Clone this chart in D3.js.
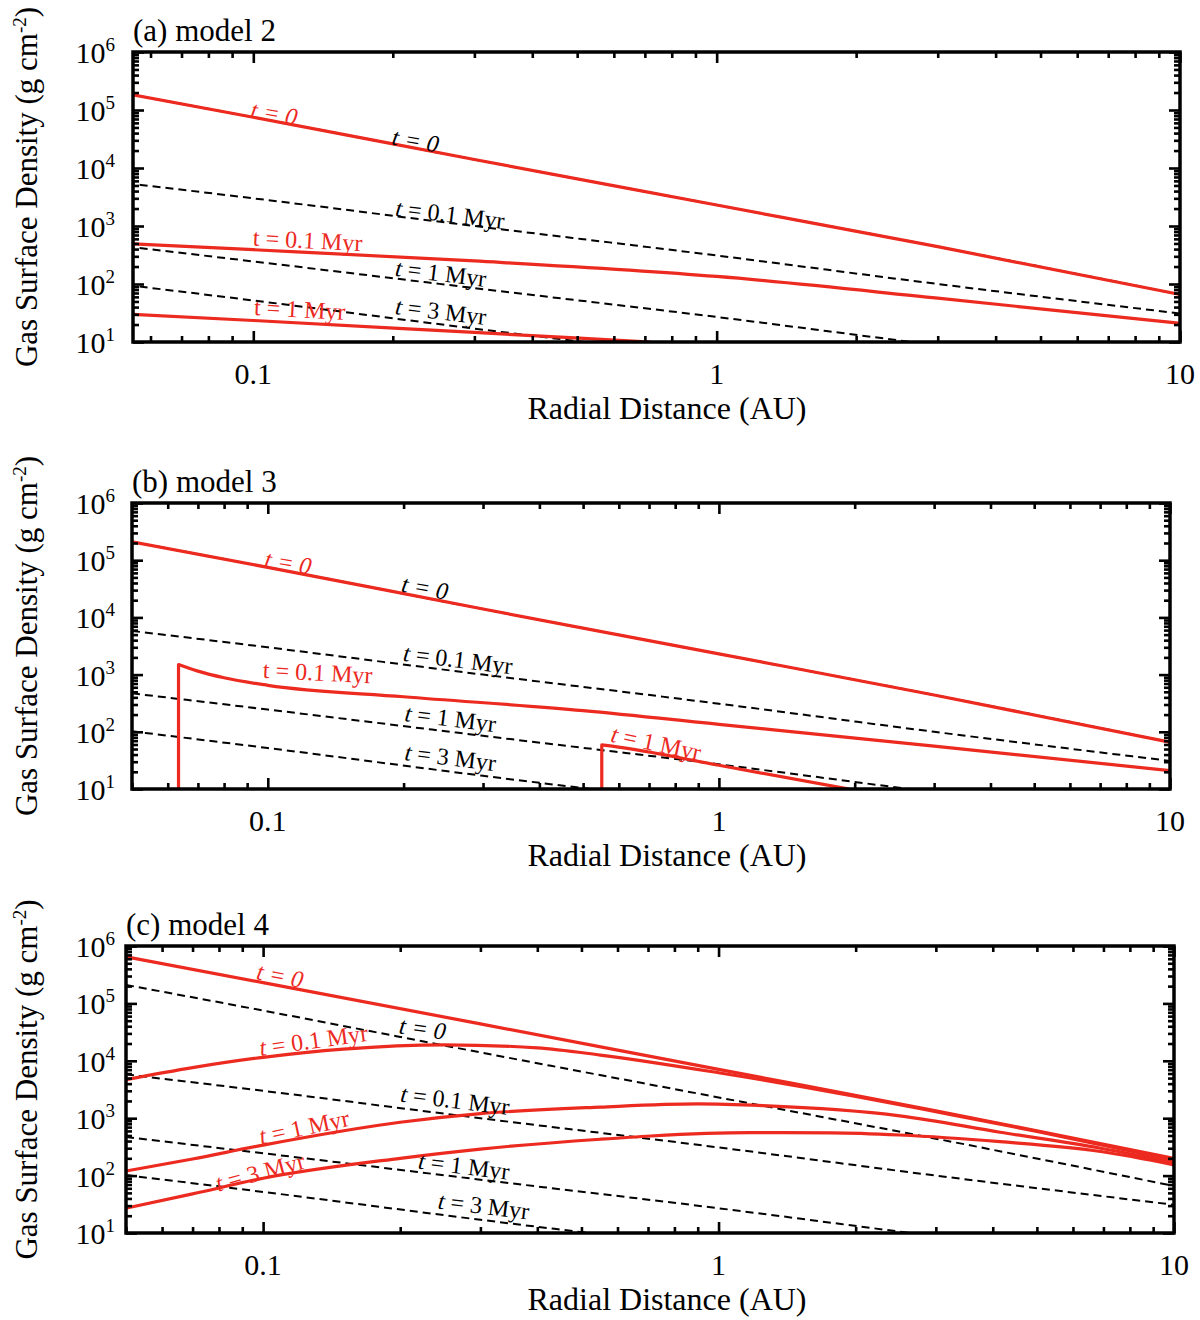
<!DOCTYPE html>
<html lang="en">
<head>
<meta charset="utf-8">
<title>Gas Surface Density</title>
<script src="https://d3js.org/d3.v7.min.js"></script>
<style>
  body { margin: 0; background: #fff; }
  text { font-family: "Liberation Serif", "Times New Roman", serif; }
</style>
</head>
<body>
<script>
// radial grid of the power-law curves (AU)
var rGrid = [0.05, 0.1, 0.3, 1, 3, 10];

// black dashed curves, identical in the three panels (g cm^-2)
var dashT0  = [2.1e5, 7.5e4, 1.4e4, 2300, 440, 66];
var dashT01 = [5800, 3000, 1000, 310, 100, 31];
var dashT1  = [470, 245, 85, 27, 8.8, 2.8];
var dashT3  = [102, 52, 17, 5.3, 1.7, 0.53];

// (a) model 2, red curves (t = 0 is the dashed t = 0 curve)
var aR01 = [0.055, 0.1, 0.3, 1, 3, 10];
var aS01 = [490, 390, 250, 135, 57, 21];
var aR1  = [0.055, 0.1, 0.3, 0.72];
var aS1  = [30, 23.5, 14.6, 10];

// (b) model 3, inner edge is a vertical wall
var bR01 = [0.0634, 0.0634, 0.07, 0.08, 0.1, 0.2, 0.5, 1, 3, 10];
var bS01 = [10, 1500, 1150, 880, 650, 410, 235, 135, 56, 21];
var bR1  = [0.55, 0.55, 0.58, 1, 1.94];
var bS1  = [10, 59, 56, 26, 10];

// (c) model 4
var cS0  = [6.5e5, 2.3e5, 4.4e4, 7100, 1350, 200];
var cR01 = [0.05, 0.07, 0.1, 0.15, 0.25, 0.4, 0.55, 1, 2, 3, 5, 10];
var cS01 = [4700, 7600, 11500, 16000, 19000, 16800, 12600, 6200, 2400, 1300, 590, 185];
var cR1  = [0.05, 0.07, 0.1, 0.2, 0.3, 0.55, 0.9, 1.25, 2.5, 4.15, 6.9, 10];
var cS1  = [120, 195, 340, 850, 1200, 1560, 1770, 1650, 1100, 570, 300, 169];
var cR3  = [0.05, 0.07, 0.1, 0.2, 0.3, 0.55, 0.71, 1.17, 1.77, 2.5, 4.15, 6.9, 10];
var cS3  = [27, 48, 90, 200, 290, 430, 490, 560, 555, 510, 390, 263, 154];

// ticks
var xMajor = [0.1, 1, 10];
var xTickLabels = ["0.1", "1", "10"];
var yMajor = [1e1, 1e2, 1e3, 1e4, 1e5, 1e6];
var yExp = ["1", "2", "3", "4", "5", "6"];

var red = "#ec2a1f";

function pairs(r, s) { return r.map(function (v, i) { return [v, s[i]]; }); }

var dashed = [pairs(rGrid, dashT0), pairs(rGrid, dashT01), pairs(rGrid, dashT1), pairs(rGrid, dashT3)];

var panels = [
  { title: "(a) model 2", top: 52, bottom: 342, left: 133, right: 1180, xMin: 0.055,
    red: [pairs(rGrid, dashT0), pairs(aR01, aS01), pairs(aR1, aS1)],
    labels: [
      ["t = 0", 0.111, 8.9e4, 10, red, "all"],
      ["t = 0", 0.224, 3.0e4, 10, "#000", "all"],
      ["t = 0.1 Myr", 0.266, 1610, 7, "#000", "t"],
      ["t = 0.1 Myr", 0.131, 574, 3, red, "none"],
      ["t = 1 Myr", 0.254, 155, 7, "#000", "t"],
      ["t = 3 Myr", 0.254, 34, 7, "#000", "t"],
      ["t = 1 Myr", 0.126, 37, 3, red, "none"]
    ] },
  { title: "(b) model 3", top: 503, bottom: 789, left: 132, right: 1170, xMin: 0.05,
    red: [pairs(rGrid, dashT0), pairs(bR01, bS01), pairs(bR1, bS1)],
    labels: [
      ["t = 0", 0.111, 9.2e4, 10, red, "all"],
      ["t = 0", 0.223, 3.35e4, 10, "#000", "all"],
      ["t = 0.1 Myr", 0.264, 1860, 7, "#000", "t"],
      ["t = 0.1 Myr", 0.129, 1100, 3, red, "none"],
      ["t = 1 Myr", 0.254, 173, 7, "#000", "t"],
      ["t = 3 Myr", 0.254, 36, 7, "#000", "t"],
      ["t = 1 Myr", 0.726, 64, 12, red, "t"]
    ] },
  { title: "(c) model 4", top: 946, bottom: 1233, left: 126, right: 1174, xMin: 0.05,
    red: [pairs(rGrid, cS0), pairs(cR01, cS01), pairs(cR1, cS1), pairs(cR3, cS3)],
    labels: [
      ["t = 0", 0.109, 3.1e5, 11, red, "all"],
      ["t = 0", 0.224, 3.7e4, 8, "#000", "all"],
      ["t = 0.1 Myr", 0.129, 2.3e4, -8, red, "t"],
      ["t = 1 Myr", 0.123, 706, -12, red, "t"],
      ["t = 3 Myr", 0.0985, 116, -15, red, "t"],
      ["t = 0.1 Myr", 0.264, 2080, 7, "#000", "t"],
      ["t = 1 Myr", 0.276, 148, 7, "#000", "t"],
      ["t = 3 Myr", 0.305, 30, 7, "#000", "t"]
    ] }
];

var svg = d3.select("body").append("svg")
    .attr("width", 1200)
    .attr("height", 1320);

panels.forEach(function (p, k) {
  var x = d3.scaleLog().domain([p.xMin, 10]).range([p.left, p.right]);
  var y = d3.scaleLog().domain([10, 1e6]).range([p.bottom, p.top]);
  var g = svg.append("g");

  var isMajor = function (v) { return Math.abs(Math.log10(v) - Math.round(Math.log10(v))) < 1e-6; };
  var xMinor = x.ticks().filter(function (v) { return !isMajor(v); });
  var yMinor = y.ticks().filter(function (v) { return !isMajor(v); });

  //clip to the frame
  g.append("clipPath").attr("id", "clip" + k)
   .append("rect")
   .attr("x", p.left).attr("y", p.top)
   .attr("width", p.right - p.left).attr("height", p.bottom - p.top);

  var line = d3.line()
      .x(function (d) { return x(d[0]); })
      .y(function (d) { return y(d[1]); })
      .curve(d3.curveMonotoneX);

  //a curve starting with a vertical wall: straight wall, then smooth
  function path(d) {
    if (d.length > 2 && d[0][0] === d[1][0]) {
      return "M" + x(d[0][0]) + "," + y(d[0][1]) + "L" + line(d.slice(1)).slice(1);
    }
    return line(d);
  }

  var plot = g.append("g").attr("clip-path", "url(#clip" + k + ")");

  plot.selectAll("path.dash")
      .data(dashed)
      .enter().append("path")
      .attr("class", "dash")
      .attr("d", path)
      .attr("fill", "none")
      .attr("stroke", "#000")
      .attr("stroke-width", 2)
      .attr("stroke-dasharray", "8,5");

  plot.selectAll("path.red")
      .data(p.red)
      .enter().append("path")
      .attr("class", "red")
      .attr("d", path)
      .attr("fill", "none")
      .attr("stroke", red)
      .attr("stroke-width", 3.2)
      .attr("stroke-linejoin", "round");

  //ticks, all pointing inward
  function tickAxis(axis, vals, size, transform) {
    var a = g.append("g")
        .attr("transform", transform)
        .call(axis.tickValues(vals).tickSize(-size).tickFormat(""));
    a.select(".domain").remove();
    a.selectAll("line").attr("stroke", "#000").attr("stroke-width", 2.6);
  }
  tickAxis(d3.axisBottom(x), xMajor, 11, "translate(0," + p.bottom + ")");
  tickAxis(d3.axisBottom(x), xMinor, 6, "translate(0," + p.bottom + ")");
  tickAxis(d3.axisTop(x), xMajor, 11, "translate(0," + p.top + ")");
  tickAxis(d3.axisTop(x), xMinor, 6, "translate(0," + p.top + ")");
  tickAxis(d3.axisLeft(y), yMajor, 11, "translate(" + p.left + ",0)");
  tickAxis(d3.axisLeft(y), yMinor, 6, "translate(" + p.left + ",0)");
  tickAxis(d3.axisRight(y), yMajor, 11, "translate(" + p.right + ",0)");
  tickAxis(d3.axisRight(y), yMinor, 6, "translate(" + p.right + ",0)");

  //frame
  g.append("rect")
   .attr("x", p.left).attr("y", p.top)
   .attr("width", p.right - p.left).attr("height", p.bottom - p.top)
   .attr("fill", "none")
   .attr("stroke", "#000")
   .attr("stroke-width", 3.5);

  //x tick labels
  g.selectAll("text.xl")
   .data(xMajor)
   .enter().append("text")
   .attr("class", "xl")
   .attr("x", function (d) { return x(d); })
   .attr("y", p.bottom + 42)
   .attr("text-anchor", "middle")
   .style("font-size", "30px")
   .text(function (d, i) { return xTickLabels[i]; });

  //y tick labels 10^n
  var yl = g.selectAll("text.yl")
   .data(yMajor)
   .enter().append("text")
   .attr("class", "yl")
   .attr("x", 115)
   .attr("y", function (d) { return y(d) + 11; })
   .attr("text-anchor", "end")
   .style("font-size", "30px");
  yl.append("tspan").text("10");
  yl.append("tspan").attr("dy", -12).style("font-size", "19px")
    .text(function (d, i) { return yExp[i]; });

  //panel title
  g.append("text")
   .attr("x", p.left)
   .attr("y", p.top - 11)
   .style("font-size", "31px")
   .text(p.title);

  //x axis title
  g.append("text")
   .attr("x", 667)
   .attr("y", p.bottom + 77)
   .attr("text-anchor", "middle")
   .style("font-size", "32px")
   .text("Radial Distance (AU)");

  //y axis title
  var yt = g.append("text")
   .attr("transform", "translate(37," + ((p.top + p.bottom) / 2 - 10) + ") rotate(-90)")
   .attr("text-anchor", "middle")
   .style("font-size", "31px");
  yt.append("tspan").text("Gas Surface Density (g cm");
  yt.append("tspan").attr("dy", -11).style("font-size", "19px").text("-2");
  yt.append("tspan").attr("dy", 11).text(")");

  //curve labels
  p.labels.forEach(function (l) {
    var t = g.append("text")
      .attr("transform", "translate(" + x(l[1]) + "," + y(l[2]) + ") rotate(" + l[3] + ")")
      .attr("text-anchor", "middle")
      .attr("dy", "0.35em")
      .attr("fill", l[4])
      .style("font-size", "24px");
    if (l[5] === "all") {
      t.style("font-style", "italic").text(l[0]);
    } else if (l[5] === "t") {
      t.append("tspan").style("font-style", "italic").text("t");
      t.append("tspan").text(l[0].slice(1));
    } else {
      t.text(l[0]);
    }
  });
});
</script>
</body>
</html>
